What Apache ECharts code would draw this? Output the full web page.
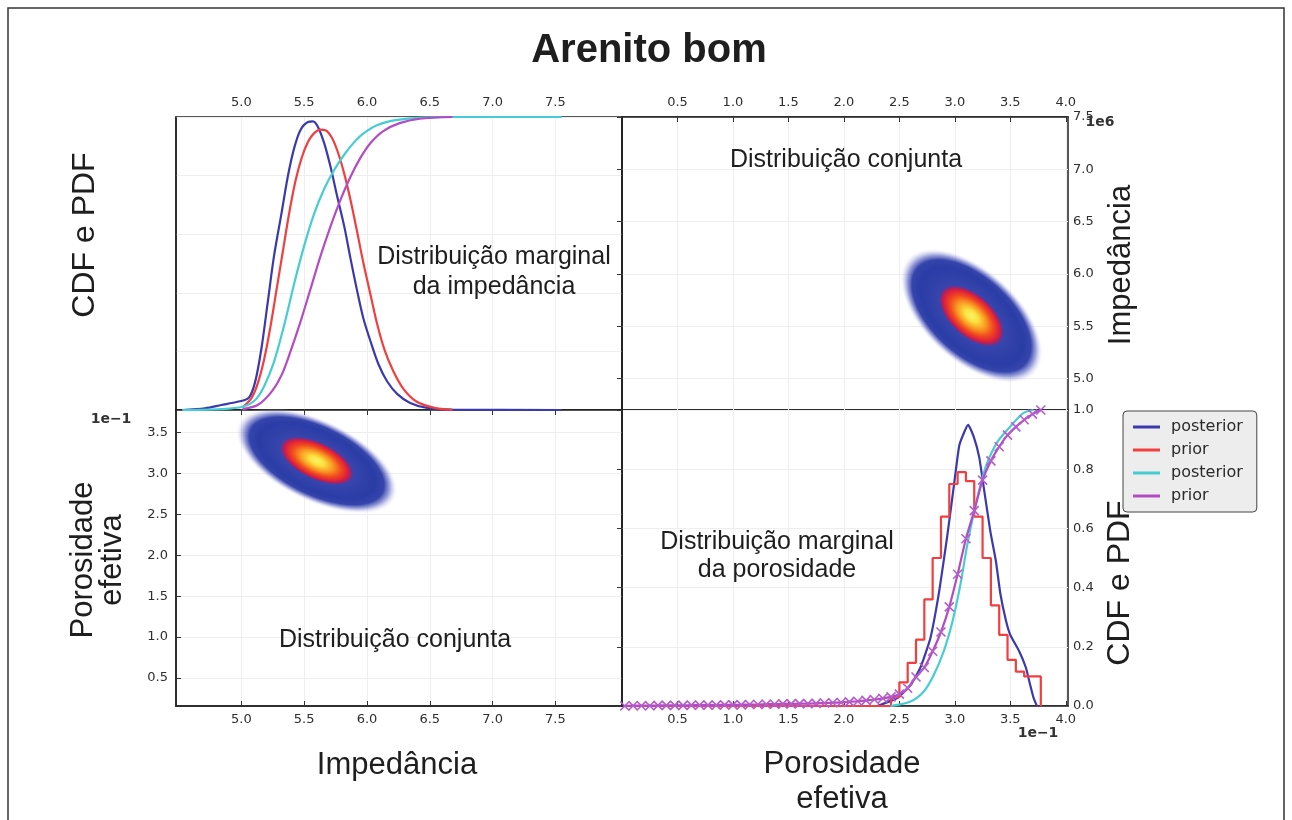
<!DOCTYPE html>
<html>
<head>
<meta charset="utf-8">
<script src="https://cdn.jsdelivr.net/npm/echarts@6/dist/echarts.min.js"></script>
<style>
  html, body { margin: 0; padding: 0; background: #fff; }
  #chart { width: 1292px; height: 820px; }
</style>
</head>
<body>
<div id="chart"></div>
<script>
// ---------------- data ----------------
// Tick labels (impedance in 1e6 units, porosity in 1e-1 units)
const impTicks = [5.0, 5.5, 6.0, 6.5, 7.0, 7.5];
const poroTicks = [0.5, 1.0, 1.5, 2.0, 2.5, 3.0, 3.5, 4.0];
const poroTicksLeft = [0.5, 1.0, 1.5, 2.0, 2.5, 3.0, 3.5];

// Marginal distribution of impedance: [impedance, value]
const impPosteriorPdf = [[4.53,0],[4.71,0.006],[4.84,0.017],[4.97,0.028],[5.06,0.042],[5.11,0.096],[5.16,0.21],[5.21,0.367],[5.26,0.525],[5.32,0.672],[5.37,0.797],[5.42,0.893],[5.47,0.955],[5.53,0.983],[5.57,0.985],[5.61,0.966],[5.66,0.91],[5.71,0.83],[5.76,0.735],[5.82,0.625],[5.87,0.515],[5.92,0.41],[5.97,0.315],[6.03,0.232],[6.09,0.158],[6.16,0.098],[6.24,0.055],[6.34,0.025],[6.47,0.008],[6.68,0.001],[7.55,0]];
const impPriorPdf = [[5.01,0.01],[5.08,0.04],[5.13,0.09],[5.18,0.17],[5.23,0.28],[5.28,0.41],[5.33,0.54],[5.38,0.67],[5.43,0.78],[5.48,0.86],[5.53,0.915],[5.58,0.945],[5.63,0.957],[5.67,0.955],[5.72,0.93],[5.77,0.878],[5.82,0.805],[5.87,0.715],[5.92,0.612],[5.97,0.505],[6.03,0.39],[6.08,0.295],[6.14,0.205],[6.21,0.132],[6.29,0.072],[6.39,0.03],[6.53,0.008],[6.68,0]];
const impPosteriorCdf = [[4.53,0],[4.84,0.003],[5.01,0.011],[5.11,0.034],[5.18,0.079],[5.26,0.164],[5.34,0.288],[5.42,0.43],[5.5,0.56],[5.58,0.67],[5.66,0.755],[5.74,0.82],[5.82,0.872],[5.89,0.91],[5.97,0.943],[6.08,0.972],[6.24,0.99],[6.45,0.998],[6.68,1.0],[7.55,1.0]];
const impPriorCdf = [[5.01,0.003],[5.13,0.017],[5.24,0.062],[5.32,0.119],[5.39,0.198],[5.47,0.3],[5.55,0.412],[5.63,0.525],[5.71,0.627],[5.79,0.718],[5.87,0.797],[5.95,0.862],[6.03,0.912],[6.13,0.952],[6.26,0.979],[6.42,0.994],[6.68,1.0]];

// Marginal distribution of porosity: [porosity, value]
const poroPosteriorPdf = [[2.30,0],[2.48,0.027],[2.60,0.07],[2.69,0.13],[2.78,0.23],[2.86,0.39],[2.93,0.57],[2.99,0.74],[3.04,0.88],[3.09,0.93],[3.12,0.95],[3.17,0.91],[3.22,0.84],[3.26,0.74],[3.32,0.59],[3.37,0.49],[3.41,0.38],[3.46,0.29],[3.50,0.24],[3.58,0.185],[3.64,0.13],[3.68,0.07],[3.71,0.027],[3.74,0]];
const poroPriorBinEdges = [2.425,2.5,2.575,2.65,2.725,2.8,2.875,2.95,3.025,3.1,3.175,3.25,3.325,3.4,3.475,3.55,3.625,3.7,3.775];
const poroPriorHist = [0.03,0.08,0.146,0.224,0.36,0.50,0.64,0.75,0.79,0.76,0.64,0.50,0.34,0.24,0.156,0.116,0.10,0.10];
const poroPosteriorCdf = [[2.42,0],[2.60,0.015],[2.72,0.049],[2.81,0.105],[2.90,0.185],[2.98,0.287],[3.05,0.41],[3.11,0.54],[3.17,0.65],[3.23,0.745],[3.29,0.82],[3.38,0.89],[3.50,0.944],[3.62,0.99],[3.71,1.0]];
const poroPriorCdfX = [0.025,0.1,0.175,0.25,0.325,0.4,0.475,0.55,0.625,0.7,0.775,0.85,0.925,1.0,1.075,1.15,1.225,1.3,1.375,1.45,1.525,1.6,1.675,1.75,1.825,1.9,1.975,2.05,2.125,2.2,2.275,2.35,2.425,2.5,2.575,2.65,2.725,2.8,2.875,2.95,3.025,3.1,3.175,3.25,3.325,3.4,3.475,3.55,3.625,3.7,3.775];
const poroPriorCdfY = [0,0.001,0.001,0.001,0.002,0.002,0.002,0.002,0.003,0.003,0.003,0.003,0.004,0.004,0.004,0.005,0.005,0.006,0.006,0.007,0.007,0.008,0.008,0.009,0.010,0.011,0.012,0.014,0.016,0.019,0.022,0.026,0.031,0.040,0.060,0.098,0.130,0.185,0.250,0.335,0.445,0.565,0.660,0.763,0.828,0.876,0.915,0.943,0.967,0.986,1.0];

// Joint distribution summary: means, standard deviations, correlation
const jointMean = { impedance: 5.6, porosity: 3.15 };
const jointSd = { impedance: 0.215, porosity: 0.215 };
const jointRho = -0.55;

// ---------------- styling ----------------
const C_BLUE = '#3a3aae';
const C_RED = '#f23e3e';
const C_CYAN = '#45cdd3';
const C_PURPLE = '#b34cc4';
const TICK_FONT = 'DejaVu Sans';
const TEXT_FONT = 'Liberation Sans';

const histData = poroPriorBinEdges.map((e, i) => [e, i < poroPriorHist.length ? poroPriorHist[i] : 0]);
histData.unshift([0.02, 0]);
const priorCdfPoints = poroPriorCdfX.map((x, i) => [x, poroPriorCdfY[i]]);

const blobGradient = {
  type: 'radial', x: 0.5, y: 0.5, r: 0.5,
  colorStops: [
    { offset: 0.00, color: '#f7f466' },
    { offset: 0.09, color: '#fbe240' },
    { offset: 0.20, color: '#f99a22' },
    { offset: 0.30, color: '#f04a1e' },
    { offset: 0.38, color: '#de1f3c' },
    { offset: 0.415, color: '#a52266' },
    { offset: 0.45, color: '#3745ad' },
    { offset: 0.72, color: '#2a3ca6' },
    { offset: 0.83, color: '#3545ac' },
    { offset: 0.90, color: 'rgba(80,90,190,0.55)' },
    { offset: 0.96, color: 'rgba(170,170,225,0.2)' },
    { offset: 1.00, color: 'rgba(255,255,255,0)' }
  ]
};

// Gaussian blob: 3-sigma ellipse built from sd/correlation through the axis scales
function renderBlob(params, api) {
  const c = api.coord([api.value(0), api.value(1)]);
  const s = api.size([api.value(2), api.value(3)]);
  const rho = api.value(4);
  const sx = s[0], sy = s[1];
  const cxx = sx * sx, cyy = sy * sy, cxy = -rho * sx * sy; // screen y points down
  const phi = 0.5 * Math.atan2(2 * cxy, cxx - cyy);
  const tr = (cxx + cyy) / 2;
  const d = Math.sqrt(((cxx - cyy) / 2) ** 2 + cxy * cxy);
  const a = Math.sqrt(tr + d), b = Math.sqrt(Math.max(tr - d, 1));
  const R = 3;
  return {
    type: 'circle',
    x: c[0], y: c[1],
    rotation: -phi,
    scaleX: R * a / 50, scaleY: R * b / 50,
    shape: { cx: 0, cy: 0, r: 50 },
    style: { fill: blobGradient }
  };
}

const fmt1 = v => Number(v).toFixed(1);
const tickLabel = { fontFamily: TICK_FONT, fontSize: 13, color: '#2e2e2e' };
const split = { show: true, lineStyle: { color: '#eeeeee', width: 1 } };
const line = { show: true, lineStyle: { color: '#222', width: 1.5 } };
const tick = (vals) => ({ show: true, inside: true, length: 5, lineStyle: { color: '#333' }, customValues: vals });

const grids = [
  { left: 176, top: 117, width: 446, height: 293 },
  { left: 622, top: 117, width: 446, height: 293 },
  { left: 176, top: 410, width: 446, height: 296 },
  { left: 622, top: 410, width: 446, height: 296 }
].map(g => Object.assign({ show: true, borderColor: '#222', borderWidth: 1.5, containLabel: false }, g));

const xAxes = [
  { gridIndex: 0, type: 'value', position: 'top', min: 4.48, max: 8.03,
    axisLine: line, axisTick: tick(impTicks), splitLine: split,
    axisLabel: Object.assign({ customValues: impTicks, formatter: fmt1, margin: 8 }, tickLabel) },
  { gridIndex: 1, type: 'value', position: 'top', min: 0, max: 4.02,
    axisLine: line, axisTick: tick(poroTicks), splitLine: split,
    axisLabel: Object.assign({ customValues: poroTicks, formatter: fmt1, margin: 8 }, tickLabel) },
  { gridIndex: 2, type: 'value', position: 'bottom', min: 4.48, max: 8.03,
    axisLine: line, axisTick: tick(impTicks), splitLine: split,
    axisLabel: Object.assign({ customValues: impTicks, formatter: fmt1, margin: 7 }, tickLabel) },
  { gridIndex: 3, type: 'value', position: 'bottom', min: 0, max: 4.02,
    axisLine: line, axisTick: tick(poroTicks), splitLine: split,
    axisLabel: Object.assign({ customValues: poroTicks, formatter: fmt1, margin: 7 }, tickLabel) }
];

const yAxes = [
  { gridIndex: 0, type: 'value', position: 'left', min: 0, max: 1, interval: 0.2,
    axisLine: line, axisTick: { show: false }, axisLabel: { show: false }, splitLine: split },
  { gridIndex: 1, type: 'value', position: 'right', min: 4.70, max: 7.5,
    axisLine: line, axisTick: tick(impTicks), splitLine: split,
    axisLabel: Object.assign({ customValues: impTicks, formatter: fmt1, margin: 5 }, tickLabel) },
  { gridIndex: 2, type: 'value', position: 'left', min: 0.16, max: 3.77,
    axisLine: line, axisTick: tick(poroTicksLeft), splitLine: split,
    axisLabel: Object.assign({ customValues: poroTicksLeft, formatter: fmt1, margin: 8 }, tickLabel) },
  { gridIndex: 3, type: 'value', position: 'right', min: 0, max: 1, interval: 0.2,
    axisLine: line, axisTick: { show: true, inside: true, length: 5, lineStyle: { color: '#333' } }, splitLine: split,
    axisLabel: Object.assign({ formatter: fmt1, margin: 5 }, tickLabel) }
];

function curve(name, color, data, xi, extra) {
  return Object.assign({
    type: 'line', name: name, xAxisIndex: xi, yAxisIndex: xi, data: data,
    color: color, showSymbol: false, smooth: 0.3,
    lineStyle: { color: color, width: 2.2 }, z: 3
  }, extra || {});
}

const xMark = 'path://M0,0L10,10M10,0L0,10';

function text(x, y, str, opts) {
  const o = opts || {};
  return {
    type: 'text', x: x, y: y, rotation: o.rotation || 0, z: 100,
    style: {
      text: str,
      fontFamily: o.family || TEXT_FONT,
      fontSize: o.size || 31,
      fontWeight: o.weight || 'normal',
      lineHeight: o.lineHeight,
      fill: o.color || '#1e1e1e',
      textAlign: 'center',
      textVerticalAlign: 'middle'
    }
  };
}

const option = {
  backgroundColor: '#ffffff',
  animation: false,
  grid: grids,
  xAxis: xAxes,
  yAxis: yAxes,
  legend: {
    left: 1123, top: 411, orient: 'vertical',
    data: ['posterior', 'prior', 'posterior\u200b', 'prior\u200b'],
    icon: 'rect', itemWidth: 27, itemHeight: 3, itemGap: 7,
    backgroundColor: '#ededed', borderColor: '#444', borderWidth: 1, borderRadius: 4,
    padding: [8, 14, 8, 10],
    textStyle: { fontFamily: TICK_FONT, fontSize: 16, color: '#2a2a2a', padding: [0, 0, 0, 6] },
    selectedMode: false
  },
  graphic: [
    { type: 'rect', shape: { x: 8, y: 8, width: 1276, height: 840 },
      style: { fill: 'none', stroke: '#333', lineWidth: 1.5 }, z: 0 },
    text(649, 51, 'Arenito bom', { size: 40, weight: 'bold', color: '#1e1e1e' }),
    text(85, 235, 'CDF e PDF', { rotation: Math.PI / 2, size: 32 }),
    text(98, 560, 'Porosidade\nefetiva', { rotation: Math.PI / 2, lineHeight: 29 }),
    text(1121, 265, 'Impedância', { rotation: Math.PI / 2 }),
    text(1120, 583, 'CDF e PDF', { rotation: Math.PI / 2, size: 32 }),
    text(397, 765, 'Impedância'),
    text(842, 782, 'Porosidade\nefetiva', { lineHeight: 35 }),
    text(494, 272, 'Distribuição marginal\nda impedância', { size: 25, lineHeight: 30 }),
    text(846, 160, 'Distribuição conjunta', { size: 25 }),
    text(395, 640, 'Distribuição conjunta', { size: 25 }),
    text(777, 556, 'Distribuição marginal\nda porosidade', { size: 25, lineHeight: 28 }),
    text(1100, 122, '1e6', { family: TICK_FONT, size: 14, weight: 'bold', color: '#333' }),
    text(111, 419, '1e\u22121', { family: TICK_FONT, size: 14, weight: 'bold', color: '#333' }),
    text(1038, 733, '1e\u22121', { family: TICK_FONT, size: 14, weight: 'bold', color: '#333' })
  ],
  series: [
    // marginal of impedance (top-left)
    curve('posterior', C_BLUE, impPosteriorPdf, 0),
    curve('prior', C_RED, impPriorPdf, 0),
    curve('posterior\u200b', C_CYAN, impPosteriorCdf, 0),
    curve('prior\u200b', C_PURPLE, impPriorCdf, 0),
    // joint distributions
    { type: 'custom', name: 'conjunta', xAxisIndex: 1, yAxisIndex: 1, renderItem: renderBlob,
      encode: { x: 0, y: 1 }, z: 1,
      data: [[jointMean.porosity, jointMean.impedance, jointSd.porosity, jointSd.impedance, jointRho]] },
    { type: 'custom', name: 'conjunta', xAxisIndex: 2, yAxisIndex: 2, renderItem: renderBlob,
      encode: { x: 0, y: 1 }, z: 1,
      data: [[jointMean.impedance, jointMean.porosity, jointSd.impedance, jointSd.porosity, jointRho]] },
    // marginal of porosity (bottom-right)
    curve('posterior', C_BLUE, poroPosteriorPdf, 3, { smooth: 0.15 }),
    curve('prior', C_RED, histData, 3, { smooth: false, step: 'end' }),
    curve('posterior\u200b', C_CYAN, poroPosteriorCdf, 3),
    curve('prior\u200b', C_PURPLE, priorCdfPoints, 3, {
      smooth: 0.2, showSymbol: true, symbol: xMark, symbolSize: 9,
      itemStyle: { color: C_PURPLE, borderColor: '#b55ccb', borderWidth: 1.6 }
    })
  ]
};

const chart = echarts.init(document.getElementById('chart'), null, { renderer: 'canvas' });
chart.setOption(option);
</script>
</body>
</html>
